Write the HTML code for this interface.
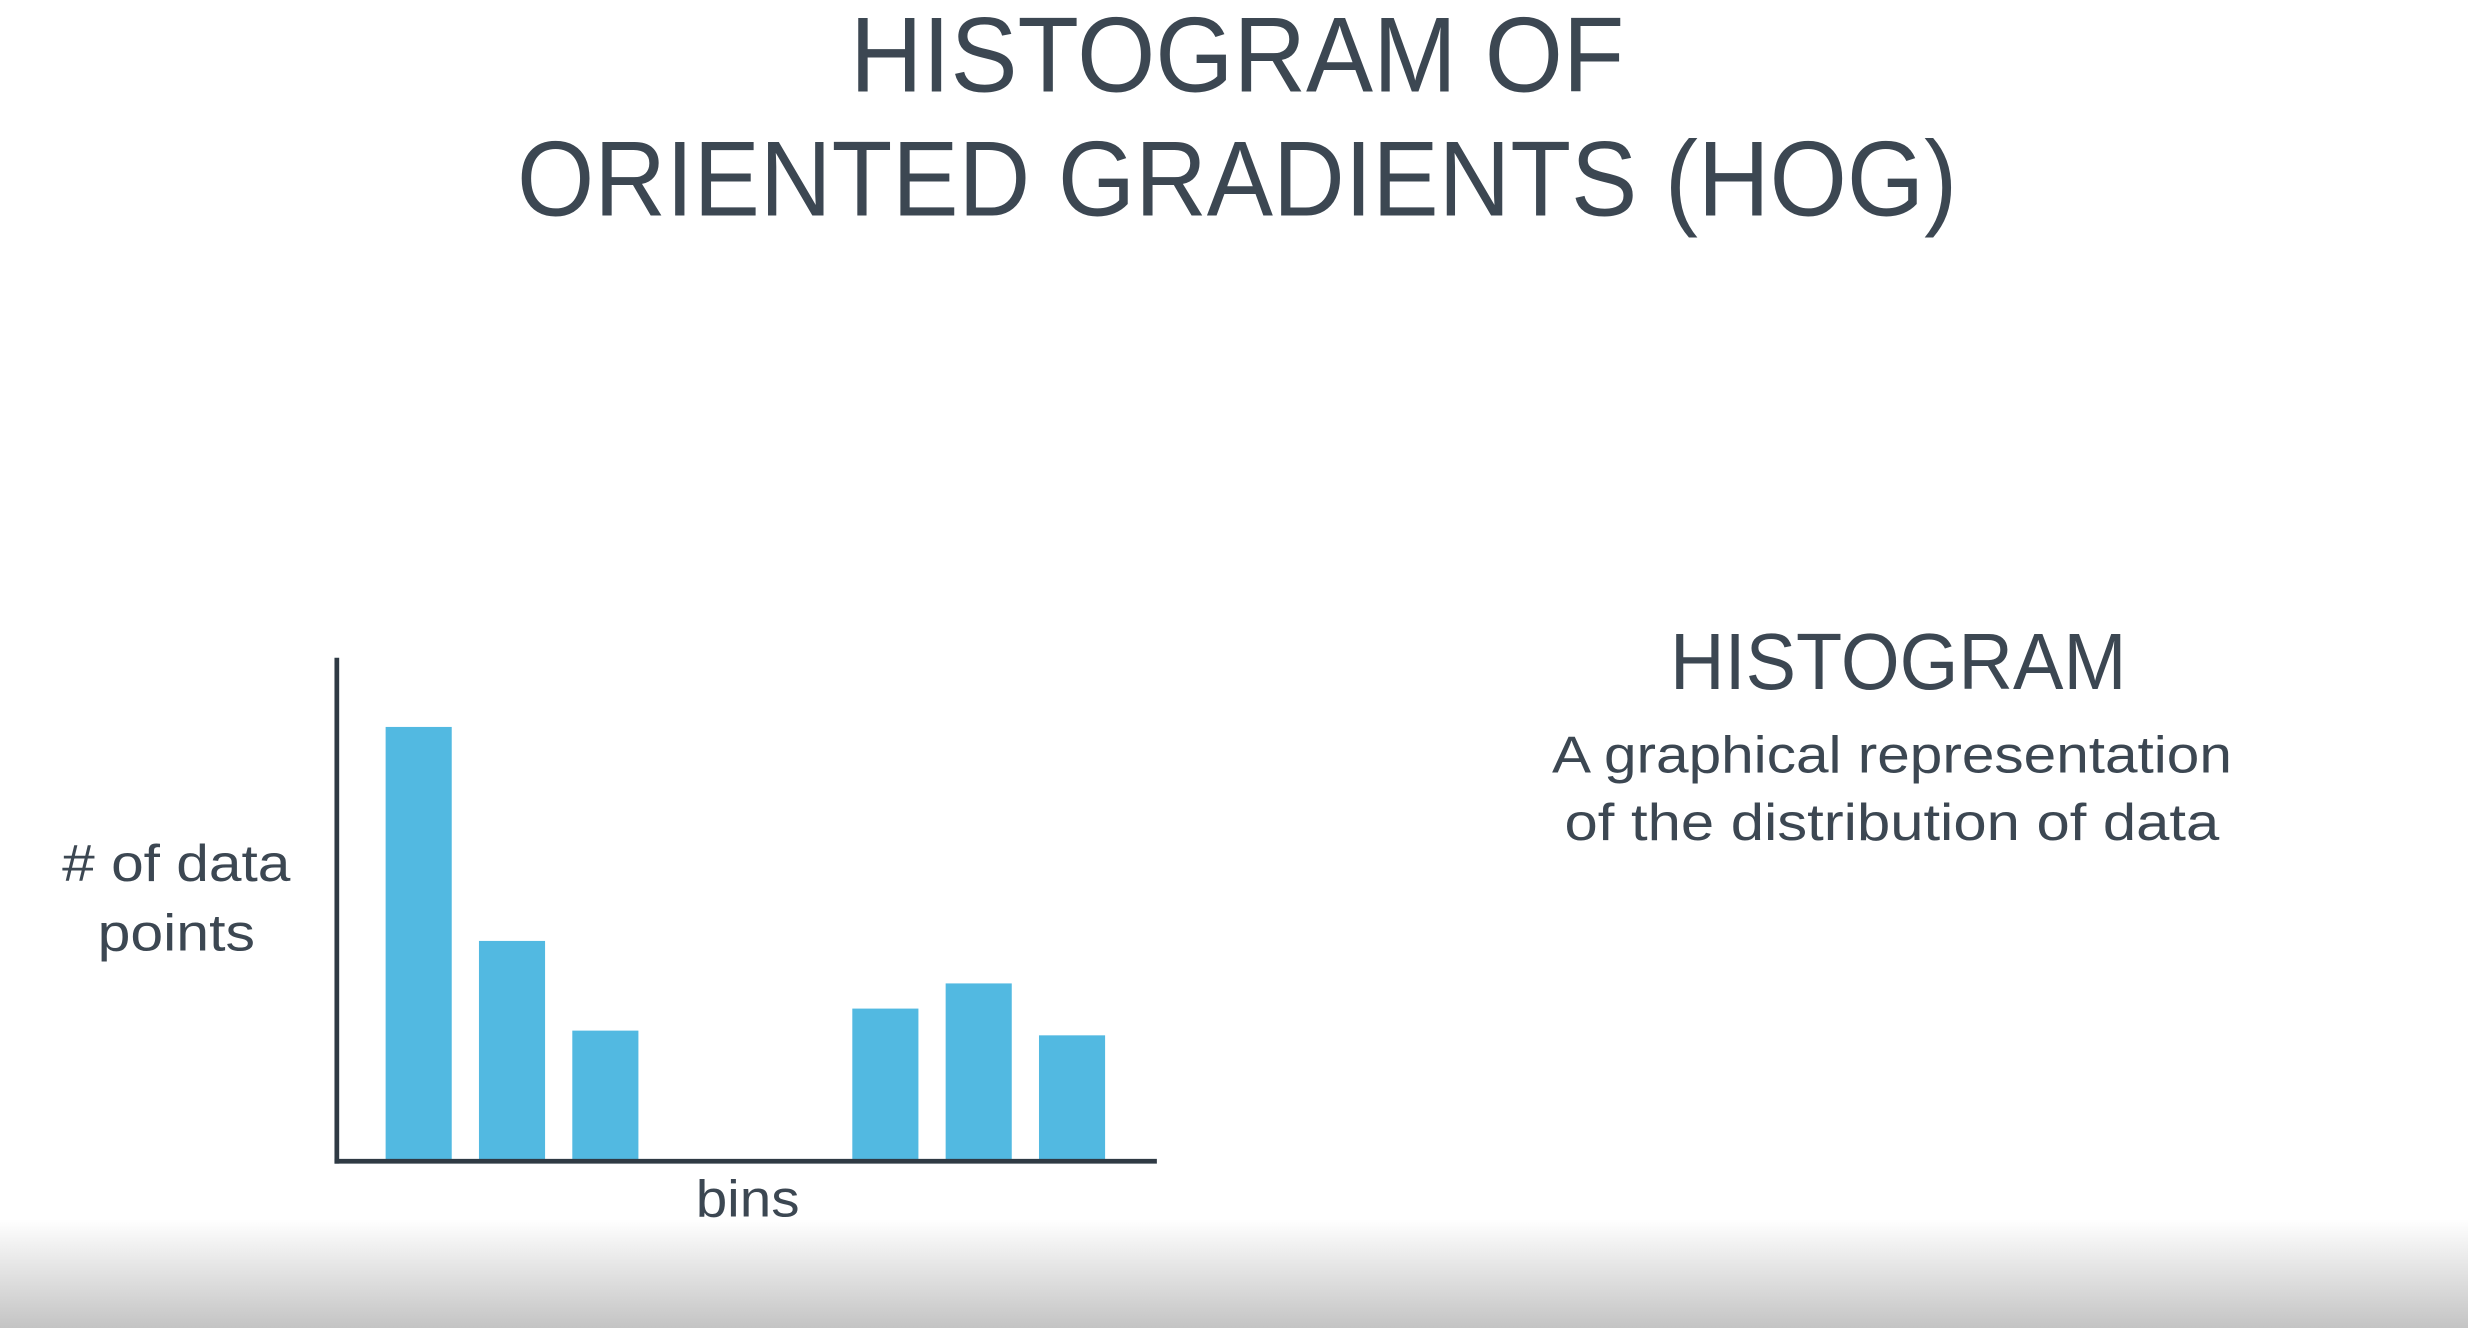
<!DOCTYPE html>
<html><head><meta charset="utf-8"><style>
html,body{margin:0;padding:0;background:#fff;}
svg{display:block;}
text{font-family:"Liberation Sans",sans-serif;fill:#3c4752;}
</style></head><body>
<svg width="2468" height="1328" viewBox="0 0 1568 844" preserveAspectRatio="none" xmlns="http://www.w3.org/2000/svg">
<defs><linearGradient id="fade" x1="0" y1="0" x2="0" y2="1">
<stop offset="0" stop-color="#ffffff"/><stop offset="1" stop-color="#c4c4c4"/></linearGradient></defs>
<rect width="1568" height="844" fill="#fff"/>
<rect x="0" y="775" width="1568" height="69" fill="url(#fade)"/>
<text x="786" y="58" text-anchor="middle" font-size="68" textLength="492" lengthAdjust="spacingAndGlyphs">HISTOGRAM OF</text>
<text x="786" y="137" text-anchor="middle" font-size="68" textLength="915" lengthAdjust="spacingAndGlyphs">ORIENTED GRADIENTS (HOG)</text>
<g id="chart"></g>
<text x="112" y="560" text-anchor="middle" font-size="33" textLength="145" lengthAdjust="spacingAndGlyphs">&#35; of data</text>
<text x="112" y="604" text-anchor="middle" font-size="33" textLength="100" lengthAdjust="spacingAndGlyphs">points</text>
<text x="475" y="773" text-anchor="middle" font-size="33" textLength="66" lengthAdjust="spacingAndGlyphs">bins</text>
<text x="1206" y="438" text-anchor="middle" font-size="51" textLength="290" lengthAdjust="spacingAndGlyphs">HISTOGRAM</text>
<text x="1202" y="491" text-anchor="middle" font-size="33" textLength="432" lengthAdjust="spacingAndGlyphs">A graphical representation</text>
<text x="1202" y="534" text-anchor="middle" font-size="33" textLength="416" lengthAdjust="spacingAndGlyphs">of the distribution of data</text>
</svg>
<script>
const categories = ["b1","b2","b3","b4","b5","b6","b7","b8"];
const values = [276, 140, 83, 0, 0, 97, 113, 80];
const yMax = 320;
(function(){
  const NS = "http://www.w3.org/2000/svg";
  const g = document.getElementById("chart");
  const x0 = 214, x1 = 735, yBase = 738, yTop = 418;
  const firstX = 245, step = 59.3, bw = 42;
  const xPos = i => firstX + i * step;
  const yScale = v => yBase - v / yMax * (yBase - yTop);
  categories.forEach((c, i) => {
    if (values[i] <= 0) return;
    const r = document.createElementNS(NS, "rect");
    r.setAttribute("x", xPos(i));
    r.setAttribute("y", yScale(values[i]));
    r.setAttribute("width", bw);
    r.setAttribute("height", yBase - yScale(values[i]));
    r.setAttribute("fill", "#52b9e1");
    
    
    g.appendChild(r);
  });
  const ya = document.createElementNS(NS, "line");
  ya.setAttribute("x1", x0); ya.setAttribute("y1", yTop);
  ya.setAttribute("x2", x0); ya.setAttribute("y2", yBase + 1.5);
  ya.setAttribute("stroke", "#2f3a44"); ya.setAttribute("stroke-width", "3");
  
  
  g.appendChild(ya);
  const xa = document.createElementNS(NS, "line");
  xa.setAttribute("x1", x0 - 1.5); xa.setAttribute("y1", yBase);
  xa.setAttribute("x2", x1); xa.setAttribute("y2", yBase);
  xa.setAttribute("stroke", "#2f3a44"); xa.setAttribute("stroke-width", "3");
  
  
  g.appendChild(xa);
})();
</script>
</body></html>
